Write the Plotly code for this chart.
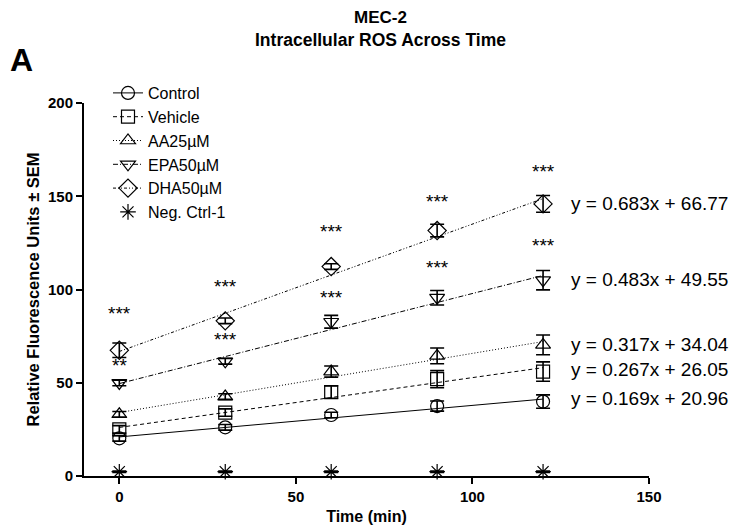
import plotly.graph_objects as go

# Time points (min)
times = [0, 30, 60, 90, 120]

# Group names
groups = ["Control", "Vehicle", "AA25µM", "EPA50µM", "DHA50µM", "Neg. Ctrl-1"]

# Mean relative fluorescence units per group
control = [20.2, 26.1, 32.7, 37.5, 39.9]
vehicle = [25.0, 34.0, 45.0, 51.9, 56.0]
aa25 = [33.1, 42.6, 56.0, 64.4, 70.3]
epa50 = [49.9, 61.5, 82.7, 95.6, 105.0]
dha50 = [67.4, 83.2, 112.3, 131.6, 145.9]
neg_ctrl = [2.3, 2.3, 2.3, 2.3, 2.3]

# Standard error of the mean
control_sem = [1.5, 1.5, 1.5, 2.7, 3.6]
vehicle_sem = [2.0, 2.0, 3.3, 4.6, 5.2]
aa25_sem = [1.5, 1.5, 3.0, 4.2, 5.3]
epa50_sem = [1.5, 1.5, 3.4, 3.9, 5.2]
dha50_sem = [3.9, 1.5, 1.5, 3.4, 4.5]
neg_ctrl_sem = [0.4, 0.4, 0.4, 0.4, 0.4]

# Linear fits (y = slope * x + intercept), Control .. DHA50µM
fit_slopes = [0.169, 0.267, 0.317, 0.483, 0.683]
fit_intercepts = [20.96, 26.05, 34.04, 49.55, 66.77]

# Significance marks vs. control
sig_dha = ["***", "***", "***", "***", "***"]
sig_epa = ["**", "***", "***", "***", "***"]

means = [control, vehicle, aa25, epa50, dha50, neg_ctrl]
sems = [control_sem, vehicle_sem, aa25_sem, epa50_sem, dha50_sem, neg_ctrl_sem]

# ---- styling ----
FONT = "Arial, Liberation Sans, sans-serif"
W, H = 741, 527
ML, MR, MT, MB = 84, 92, 103, 51
PW, PH = W - ML - MR, H - MT - MB

symbols = ["circle-open", "square-open", "triangle-up-open", "triangle-down-open",
           "diamond-open", "asterisk-open"]
marker_sizes = [13, 13, 13, 13, 14, 13]
dashes = ["solid", "4px,3px", "1px,2px", "5px,2px,1px,2px", "3px,2px,1px,2px,1px,2px", None]

# heights (data units) for the star labels and the fit equations
sig_dha_y = [86.9, 101.6, 131.0, 147.2, 163.3]
sig_epa_y = [59.5, 73.3, 95.9, 112.0, 123.4]
eq_y = [41.7, 56.9, 70.3, 105.2, 146.3]
eq_x = 127.3


def px_to_paper(px, py):
    """Convert figure pixel position to plot-area paper fractions."""
    return (px - ML) / PW, (H - MB - py) / PH


fig = go.Figure()

# fitted regression lines
for i in range(5):
    xs = [times[0], times[-1]]
    ys = [fit_slopes[i] * x + fit_intercepts[i] for x in xs]
    fig.add_trace(go.Scatter(
        x=xs, y=ys, mode="lines", showlegend=False, hoverinfo="skip",
        line=dict(color="black", width=1, dash=dashes[i]),
    ))

# data points with SEM error bars
for i, name in enumerate(groups):
    fig.add_trace(go.Scatter(
        x=times, y=means[i], mode="markers", name=name, showlegend=False,
        cliponaxis=False,
        marker=dict(symbol=symbols[i], size=marker_sizes[i], color="black",
                    line=dict(color="black", width=1.2)),
        error_y=dict(type="data", array=sems[i], visible=True, color="black",
                     thickness=1.6, width=7),
    ))

# legend entries (line + symbol)
for i, name in enumerate(groups):
    fig.add_trace(go.Scatter(
        x=[None], y=[None], name=name,
        mode="lines+markers" if dashes[i] else "markers",
        line=dict(color="black", width=1, dash=dashes[i] or "solid"),
        marker=dict(symbol=symbols[i], size=marker_sizes[i], color="black",
                    line=dict(color="black", width=1.2)),
    ))

annotations = []
for t, s, y in zip(times, sig_dha, sig_dha_y):
    annotations.append(dict(x=t, y=y, text=s, showarrow=False, xref="x", yref="y",
                            font=dict(family=FONT, size=19, color="black")))
for t, s, y in zip(times, sig_epa, sig_epa_y):
    annotations.append(dict(x=t, y=y, text=s, showarrow=False, xref="x", yref="y",
                            font=dict(family=FONT, size=19, color="black")))
for m, b, y in zip(fit_slopes, fit_intercepts, eq_y):
    annotations.append(dict(x=eq_x, y=y, text=f"y = {m:.3f}x + {b:.2f}", showarrow=False,
                            xref="x", yref="y", xanchor="left", yanchor="middle",
                            font=dict(family=FONT, size=19, color="black")))

# panel letter
ax_, ay_ = px_to_paper(8, 60)
annotations.append(dict(x=ax_, y=ay_, xref="paper", yref="paper",
                        text="<b>A</b>", showarrow=False, xanchor="left", yanchor="middle",
                        font=dict(family=FONT, size=32, color="black")))
# title lines
tx, ty1 = px_to_paper(380, 17.5)
_, ty2 = px_to_paper(380, 39.5)
annotations.append(dict(x=tx, y=ty1, xref="paper", yref="paper",
                        text="<b>MEC-2</b>", showarrow=False, xanchor="center", yanchor="middle",
                        font=dict(family=FONT, size=17, color="black")))
annotations.append(dict(x=tx, y=ty2, xref="paper", yref="paper",
                        text="<b>Intracellular ROS Across Time</b>", showarrow=False,
                        xanchor="center", yanchor="middle",
                        font=dict(family=FONT, size=17.5, color="black")))

axis_common = dict(
    showgrid=False, zeroline=False, showline=True, linecolor="black", linewidth=2,
    ticks="outside", ticklen=6, tickwidth=2, tickcolor="black",
    tickfont=dict(family=FONT, size=15, color="black"),
)

lx, ly = px_to_paper(108, 76)

fig.update_layout(
    width=W, height=H,
    margin=dict(l=ML, r=MR, t=MT, b=MB, autoexpand=False),
    paper_bgcolor="white", plot_bgcolor="white",
    font=dict(family=FONT, color="black"),
    xaxis=dict(range=[-10, 150], tickvals=[0, 50, 100, 150],
               ticktext=["<b>0</b>", "<b>50</b>", "<b>100</b>", "<b>150</b>"],
               title=dict(text="<b>Time (min)</b>", font=dict(family=FONT, size=16), standoff=7),
               **axis_common),
    yaxis=dict(range=[0, 200], tickvals=[0, 50, 100, 150, 200],
               ticktext=["<b>0</b>", "<b>50</b>", "<b>100</b>", "<b>150</b>", "<b>200</b>"],
               title=dict(text="<b>Relative Fluorescence Units ± SEM</b>",
                          font=dict(family=FONT, size=16.5), standoff=4),
               **axis_common),
    legend=dict(x=lx, y=ly, xanchor="left", yanchor="top",
                font=dict(family=FONT, size=16, color="black"),
                bgcolor="rgba(0,0,0,0)", itemwidth=30, tracegroupgap=0),
    annotations=annotations,
    showlegend=True,
)

fig.write_html("out.html")
